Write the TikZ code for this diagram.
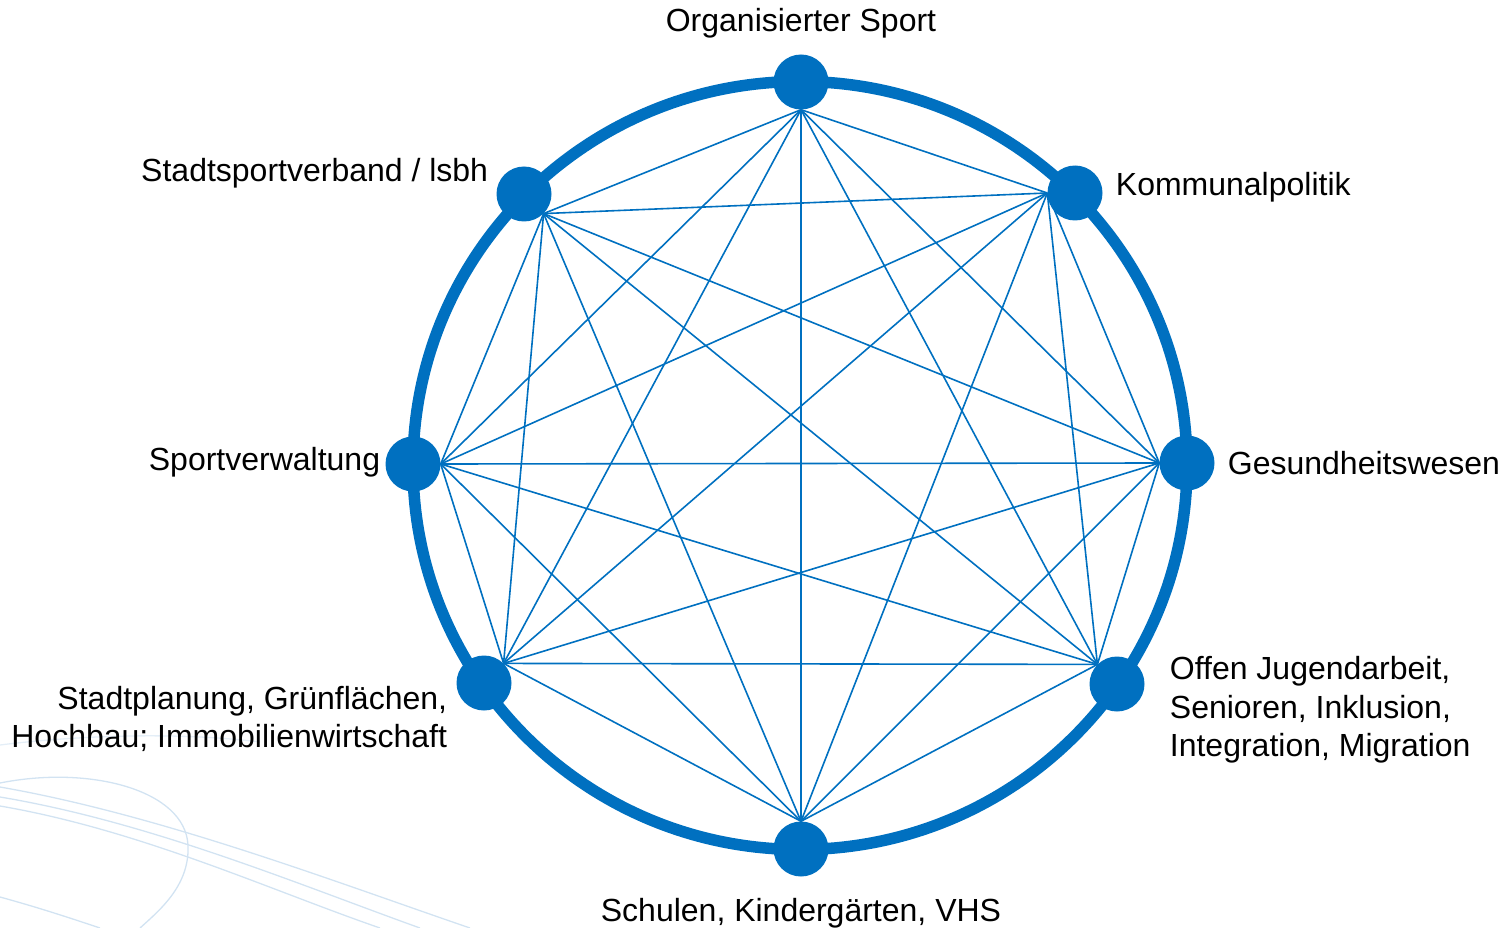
\documentclass[tikz,border=0pt]{standalone}
\usepackage{fontspec}
\setmainfont{Liberation Sans}
\usetikzlibrary{positioning}
\definecolor{netblue}{HTML}{0070C0}
\definecolor{swoosh}{HTML}{D2E3F2}
\tikzset{>=latex}
\tikzset{
  hub/.style={circle, fill=netblue, minimum size=55pt, inner sep=0pt},
  link/.style={draw=netblue, line width=1.6pt},
  ring/.style={draw=netblue, line width=11.5pt},
  lbl/.style={inner sep=0pt, font=\fontsize{32}{38.5}\selectfont},
  swirl/.style={draw=swoosh, line width=1.3pt},
}

\begin{document}
\begin{tikzpicture}[x=1pt, y=-1pt]
  \useasboundingbox (0,0) rectangle (1505,928);

  % Background swoosh
  \draw[swirl] (0,787) .. controls (160,815) and (330,880) .. (470,928);
  \draw[swirl] (0,797) .. controls (150,822) and (300,885) .. (420,928);
  \draw[swirl] (0,806) .. controls (140,830) and (270,890) .. (380,928);
  \draw[swirl] (0,783) .. controls (90,765) and (185,790) .. (188,845)
                       .. controls (190,885) and (160,910) .. (140,928);
  \draw[swirl] (0,897) .. controls (40,908) and (70,918) .. (100,928);
  \draw[swirl, opacity=.6] (0,745) .. controls (80,735) and (180,732) .. (260,742);

  % Ring
  \coordinate (mid) at (800,465.5);
  \draw[ring] (mid) ellipse [x radius=387pt, y radius=384pt];

  % Nodes
  \node[hub] (org) at (801,82)   {};
  \node[hub] (kom) at (1075,193) {};
  \node[hub] (ges) at (1187,463) {};
  \node[hub] (jug) at (1117,684) {};
  \node[hub] (sch) at (801,849)  {};
  \node[hub] (pla) at (484,683)  {};
  \node[hub] (ver) at (413,464)  {};
  \node[hub] (ssv) at (524,194)  {};

  % Labels
  \node[lbl, above=16pt of org]              (orglbl) {Organisierter Sport};
  \node[lbl, right=13pt of kom, yshift=6pt]  (komlbl) {Kommunalpolitik};
  \node[lbl, right=13pt of ges]              (geslbl) {Gesundheitswesen};
  \node[lbl, right=25pt of jug, yshift=-26pt, align=left] (juglbl)
    {Offen Jugendarbeit,\\Senioren, Inklusion,\\Integration, Migration};
  \node[lbl, below=21pt of sch]              (schlbl) {Schulen, Kindergärten, VHS};
  \node[lbl, left=9pt of pla, yshift=-36pt, align=right] (plalbl)
    {Stadtplanung, Grünflächen,\\Hochbau; Immobilienwirtschaft};
  \node[lbl, left=5pt of ver, yshift=2pt]    (verlbl) {Sportverwaltung};
  \node[lbl, left=8pt of ssv, yshift=21pt]   (ssvlbl) {Stadtsportverband / lsbh};

  % Edges
  \foreach \a [count=\i] in {org.south,kom.west,ges.west,jug.north west,
                             sch.north,pla.north east,ver.east,ssv.south east}
    \foreach \b [count=\j] in {org.south,kom.west,ges.west,jug.north west,
                               sch.north,pla.north east,ver.east,ssv.south east}
      {\ifnum\j>\i \draw[link] (\a) -- (\b); \fi}
\end{tikzpicture}
\end{document}
